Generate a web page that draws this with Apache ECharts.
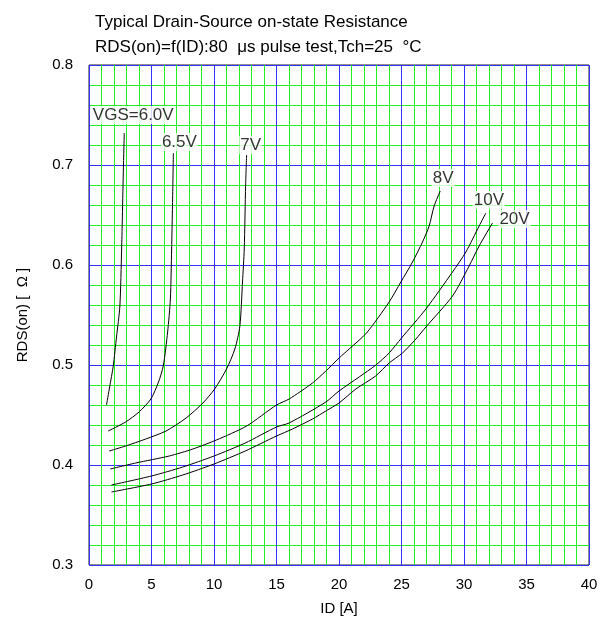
<!DOCTYPE html>
<html>
<head>
<meta charset="utf-8">
<script src="https://cdn.jsdelivr.net/npm/echarts@6/dist/echarts.min.js"></script>
<style>
html,body{margin:0;padding:0;background:#fff;}
#chart{width:606px;height:622px;}
</style>
</head>
<body>
<div id="chart"></div>
<script>
// ---- data (ID [A], RDS(on) [Ω]) ----
var vgs60 = [[1.40,0.460],[1.65,0.478],[1.94,0.499],[2.2,0.528],[2.47,0.559],[2.61,0.616],[2.66,0.643],[2.74,0.69],[2.82,0.732]];
var vgs65 = [[1.53,0.434],[2.93,0.443],[4.0,0.453],[4.95,0.466],[5.56,0.483],[5.94,0.499],[6.29,0.533],[6.51,0.566],[6.61,0.616],[6.68,0.66],[6.75,0.712]];
var vgs70 = [[1.62,0.414],[2.93,0.419],[4.54,0.426],[6.16,0.434],[7.77,0.447],[9.11,0.462],[10.05,0.476],[11.0,0.496],[11.67,0.516],[12.07,0.539],[12.28,0.583],[12.42,0.616],[12.53,0.68],[12.61,0.71]];
var vgs80 = [[1.7,0.396],[3.74,0.402],[6.42,0.409],[8.31,0.416],[10.19,0.425],[12.61,0.439],[15.0,0.46],[16.01,0.466],[17.88,0.482],[18.95,0.494],[20.01,0.507],[20.81,0.516],[22.2,0.532],[24.01,0.563],[24.95,0.583],[25.88,0.603],[26.68,0.623],[27.21,0.639],[27.61,0.659],[28.1,0.674]];
var vgs100 = [[1.8,0.380],[5,0.389],[7.5,0.398],[10,0.409],[12.5,0.422],[15,0.438],[16.01,0.442],[18.95,0.463],[20,0.474],[21.61,0.488],[22.95,0.500],[24.01,0.512],[25.0,0.527],[26.95,0.556],[29.08,0.593],[30.15,0.613],[31.21,0.639],[31.75,0.652]];
var vgs200 = [[1.8,0.373],[5,0.381],[7.5,0.39],[10,0.401],[12.5,0.414],[15,0.429],[16.28,0.436],[17.88,0.446],[18.95,0.454],[20,0.462],[21.35,0.476],[22.93,0.489],[24.01,0.502],[25.08,0.512],[26.15,0.526],[26.95,0.538],[29.08,0.569],[30.41,0.599],[31.21,0.619],[32.28,0.642]];
var curveNames = ['VGS=6.0V','6.5V','7V','8V','10V','20V'];
var curves = [vgs60, vgs65, vgs70, vgs80, vgs100, vgs200];
var titleLines = ['Typical Drain-Source on-state Resistance', 'RDS(on)=f(ID):80  \u03bcs pulse test,Tch=25  \u00b0C'];

// label offsets in pixels (style)
var labelOffsets = [[9,-18],[6,-11],[4,-10],[3,-13],[3,-13],[22,-4]];

var FONT = 'Liberation Sans, Arial, sans-serif';
var series = [];
curves.forEach(function(c, i){
  series.push({
    type:'line', name: curveNames[i], data: c, showSymbol:false, symbol:'none',
    smooth:0.25,
    lineStyle:{color:'#000', width:1}, z:3, silent:true
  });
  series.push({
    type:'scatter', data:[c[c.length-1]], symbolSize:0, z:4, silent:true,
    label:{show:true, position:'inside', offset:labelOffsets[i], formatter: curveNames[i],
      color:'#000', fontSize:17, fontFamily:FONT, backgroundColor:'#fff', padding:[1,1,0,1]}
  });
});

var chart = echarts.init(document.getElementById('chart'), null, {renderer:'canvas'});
chart.setOption({
  animation:false,
  backgroundColor:'#fff',
  title:{text: titleLines.join('\n'), left:90, top:5,
    textStyle:{fontSize:17, fontWeight:'normal', color:'#000', fontFamily:FONT, lineHeight:25}},
  grid:{left:89, right:17, top:65, bottom:57, show:true, borderColor:'#222', borderWidth:1, backgroundColor:'transparent'},
  xAxis:{type:'value', min:0, max:40, interval:5,
    name:'ID [A]', nameLocation:'middle', nameGap:36,
    nameTextStyle:{fontSize:15, color:'#000', fontFamily:FONT},
    axisLine:{show:false}, axisTick:{show:false},
    axisLabel:{fontSize:15, color:'#000', fontFamily:FONT, margin:12},
    splitLine:{show:true, lineStyle:{color:'#3333ff', width:1}},
    minorTick:{show:false, splitNumber:5},
    minorSplitLine:{show:true, lineStyle:{color:'#22ee22', width:1}}
  },
  yAxis:{type:'value', min:0.3, max:0.8, interval:0.1,
    name:'RDS(on) [  \u03a9 ]', nameLocation:'middle', nameGap:59, nameRotate:90,
    nameTextStyle:{fontSize:15, color:'#000', fontFamily:FONT},
    axisLine:{show:false}, axisTick:{show:false},
    axisLabel:{fontSize:15, color:'#000', fontFamily:FONT, margin:16, formatter:function(v){return v.toFixed(1);}},
    splitLine:{show:true, lineStyle:{color:'#3333ff', width:1}},
    minorTick:{show:false, splitNumber:5},
    minorSplitLine:{show:true, lineStyle:{color:'#22ee22', width:1}}
  },
  series: series
});
</script>
</body>
</html>
